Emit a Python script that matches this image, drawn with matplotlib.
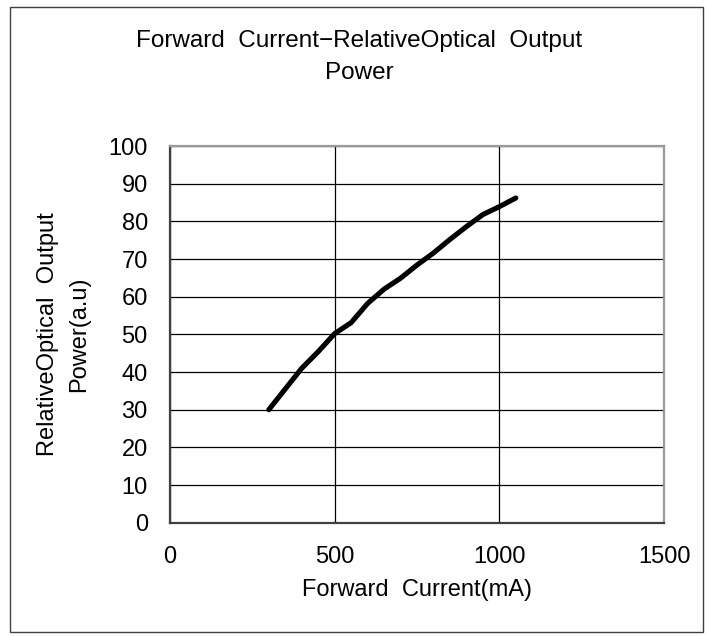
import numpy as np
import matplotlib.pyplot as plt
from matplotlib.patches import Rectangle

plt.rcParams['font.family'] = ['Liberation Sans', 'DejaVu Sans']

# forward current (mA) vs relative optical output power (a.u)
current_ma = [300, 400, 450, 500, 550, 600, 650, 700, 750, 800, 850, 900, 950, 1000, 1050]
rel_power = [30, 41, 45.4, 50.2, 53.1, 58.2, 62, 64.9, 68.4, 71.6, 75.2, 78.6, 81.8, 83.9, 86.2]

x_ticks = [0, 500, 1000, 1500]
y_ticks = list(range(0, 101, 10))

W, H = 707, 636
fig = plt.figure(figsize=(W / 100, H / 100), dpi=100)
ax = fig.add_axes([170 / W, 1 - 522.7 / H, 494 / W, 376.7 / H])

ax.plot(current_ma, rel_power, color='black', lw=3.7, solid_capstyle='round',
        solid_joinstyle='round', zorder=3)

ax.set_xlim(0, 1500)
ax.set_ylim(0, 100)
ax.set_xticks(x_ticks)
ax.set_yticks(y_ticks)
ax.grid(True, color='black', lw=0.9)
ax.set_axisbelow(True)
for k in ['left', 'bottom']:
    ax.spines[k].set_color('#404040')
    ax.spines[k].set_linewidth(1.6)
for k in ['top', 'right']:
    ax.spines[k].set_color('#999999')
    ax.spines[k].set_linewidth(1.6)
ax.tick_params(length=0, labelsize=17)
ax.tick_params(axis='x', pad=17)
ax.tick_params(axis='y', pad=16)

ax.set_xlabel('Forward  Current(mA)', fontsize=17, labelpad=8)
ax.set_ylabel('RelativeOptical  Output\nPower(a.u)', fontsize=17, labelpad=13,
              linespacing=1.55)
fig.text(359 / W, 1 - 57 / H, 'Forward  Current\u2212RelativeOptical  Output\nPower',
         ha='center', va='center', fontsize=17.5, linespacing=1.55)

fig.patches.append(Rectangle((10 / W, 4 / H), 1 - 14 / W, 1 - 11 / H,
                             transform=fig.transFigure, fill=False,
                             edgecolor='#404040', lw=1))

fig.savefig('out.png', dpi=100)
